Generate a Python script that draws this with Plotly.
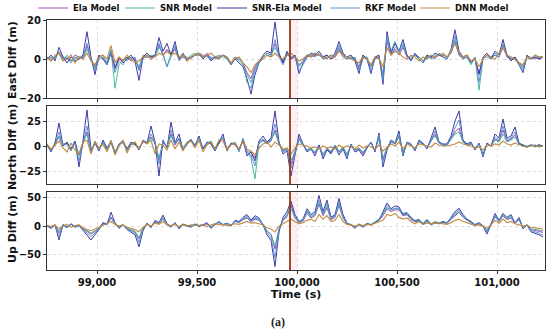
import plotly.graph_objects as go
from plotly.subplots import make_subplots

# time axis: 20 s steps
t_start = 98750
t_step = 20
n_pts = 125
time_s = [t_start + t_step * i for i in range(n_pts)]

models = ["Ela Model", "SNR Model", "SNR-Ela Model", "RKF Model", "DNN Model"]
colors = ["#a03cb8", "#3cb496", "#2c2c9e", "#5a8cd2", "#c0883c"]

# ---------------- East ----------------
east_dnn = [1, -1, 2, 3, -1, 0, 2, -2, 1, 0,
            3, -1, -3, 1, 2, 0, 7, -2, 1, -1,
            2, 0, -2, -1, 1, 2, 0, 1, 3, 2,
            4, 2, 3, 1, 2, -1, 1, 2, 3, 1,
            2, 3, 1, 0, 2, 1, -2, 0, 1, -2,
            -4, -7, -3, -1, 0, 2, 1, 3, 1, 0,
            2, 3, 1, -1, 0, 2, 1, 3, 2, 1,
            0, 2, 1, 4, 2, 1, 0, -1, -2, 1,
            0, -3, 1, 0, -4, 6, 2, 4, 3, 1,
            0, 2, 1, -1, 1, 0, 2, 1, 2, 3,
            1, 4, 8, 3, 1, 2, -1, 0, -4, 0,
            2, 1, 0, 3, 6, 2, 1, 0, -2, -3,
            1, 0, 2, 1, 1]
east_snrela = [0, 2, -1, 6, 1, -2, 1, -1, 0, 2,
               14, 1, -8, 2, 0, -3, 3, -5, 1, -2,
               0, 2, -1, -11, 1, 3, 1, 2, 11, 4,
               8, 2, 9, 0, 3, -1, 1, 2, 3, 0,
               2, -1, 1, 0, 2, 1, -3, 0, -2, -4,
               -10, -18, -8, -2, 2, 4, 3, 19, 3, -2,
               4, 0, 2, -7.5, -2, 1, 3, 2, 4, 1,
               2, 0, 3, 9, 3, 1, 2, -1, -7.5, 2,
               0, -7.5, 1, 2, -13, 14, 3, 8, 4, 10,
               2, -1, 3, 0, -2, 2, 1, 3, 2, 1,
               0, 5, 15, 4, 1, 2, -2, 0, -8, 1,
               3, 0, 4, 2, 10, 2, -1, 1, -3, -7,
               2, 0, 1, 0, 1]
east_snr = [1, 0, 1, 3, -1, 2, -1, 0, 1, 1,
            5, 0, -5, 1, 2, -2, 5, -15, -3, 0,
            -1, 1, 0, -4, 2, 1, 2, 1, 6, 3,
            -4, 3, 6, 1, 2, 0, 2, 3, 2, 1,
            2, 0, 1, 2, 1, 0, -2, 1, -1, -3,
            -8, -12, -5, -1, 1, 3, 2, 6, 2, -1,
            3, 1, 2, -4, -1, 2, 2, 3, 2, 0,
            1, 1, 2, 6, 2, 0, 1, 0, -5, 1,
            1, -4, 0, 1, -9, 10, 4, 9, 3, 7,
            2, 0, 2, 1, -1, 2, 0, 2, 2, 2,
            1, 3, 10, 3, 0, 1, -3, 1, -16, 0,
            2, 1, 3, 1, 7, 2, 0, 1, -2, -5,
            1, 0, 2, 1, 1]
east_rkf = [0, 1, 0, 4, 0, 1, -2, 1, 0, 1,
            8, 0, -6, 0, 1, -3, 4, -7, -1, -3,
            1, 0, 1, -6, 0, 2, 0, 2, 8, 2,
            -4, 1, 7, -1, 2, 1, 0, 2, 3, 2,
            1, 1, 0, 1, 2, 0, -3, 1, 0, -2,
            -12, -15, -6, -2, 0, 2, 1, 10, 1, -3,
            2, 1, 1, -6, -3, 1, 2, 1, 3, 0,
            1, 2, 1, 7, 2, 1, 0, 1, -6, 0,
            1, -6, 0, 1, -11, 12, 2, 6, 4, 8,
            1, 1, 2, 0, -2, 1, 1, 0, 3, 1,
            0, 4, 12, 2, 1, 1, -2, 1, -12, 1,
            1, 0, 2, 1, 8, 1, 1, 0, -3, -6,
            1, 1, 0, 1, 1]
east_ela = [1, -1, 1, 3, 1, 0, -1, 2, 1, 0,
            7, 0, -4, 2, 0, -2, 4, -4, 0, -1,
            1, -1, 0, -5, 1, 1, 1, 2, 7, 2,
            5, 2, 5, 0, 1, 0, 1, 2, 2, 1,
            3, 0, 1, 1, 2, 0, -2, 0, 0, -2,
            -7, -10, -4, -1, 1, 3, 2, 8, 2, -2,
            3, 0, 1, -3, -1, 2, 1, 2, 2, 1,
            2, 0, 1, 5, 1, 0, 1, 0, -4, 2,
            0, -4, 1, 1, -8, 9, 2, 5, 2, 6,
            1, 0, 2, 1, -1, 1, 1, 1, 2, 2,
            1, 3, 9, 2, 0, 1, -1, 0, -7, 0,
            2, 1, 2, 1, 6, 1, 0, 0, -2, -4,
            1, 0, 1, 0, 1]

# ---------------- North ----------------
north_dnn = [2, -3, 1, 5, -2, -6, 3, -4, -8, 4,
             6, -8, 4, -2, 2, -6, 5, -9, 0, 6,
             -7, 1, 4, -3, 5, 2, 6, -8, 2, 1,
             -4, 6, -3, 4, -5, 3, 5, -2, 6, -6,
             1, 4, -3, 6, 5, -4, 1, 3, -3, 5,
             -3, -5, -9, -2, 2, 4, -1, 4, 1, -3,
             -2, -8, -2, 2, 1, 0, -2, -1, -3, 0,
             -2, -1, -3, 1, -2, 0, -1, -3, 1, -2,
             0, -1, -3, 1, -5, -1, 2, 0, 4, -3,
             2, 0, -2, 2, 1, 0, -1, 3, 1, 0,
             0, 1, 2, 4, 2, 1, 0, -2, -1, -4,
             1, 0, 2, 1, 5, 2, 1, 3, 1, 0,
             -1, 0, 1, -1, 0]
north_snrela = [2, -6, 3, 23, 0, 4, -3, 5, -21, 5,
                36, -4, 3, -5, 6, -2, 4, -8, 2, 5,
                -3, 4, 2, -4, 6, 3, 20, 4, -30, 6,
                -2, 24, 3, 12, -4, 2, 6, 0, 10, -3,
                4, 2, -5, 3, 12, -5, 3, 2, -4, 6,
                -10, -6, -15, 5, 10, 4, 8, 35, 4, -8,
                -5, -30, -10, 12, 2, -6, -3, -10, 1, -13,
                -4, -8, 0, -9, -3, -13, 2, -6, -4, -10,
                -2, 4, -6, 13, -21, -4, 6, 3, 15, -10,
                4, 2, -5, 6, 3, -3, 8, 19, 4, 2,
                2, 10, 25, 35, 6, 2, 4, -4, 3, -11,
                3, 0, 12, 8, 27, 8, 10, 19, 3, 1,
                -1, 1, 0, 1, 0]
north_snr = [1, -4, 2, 10, 2, 3, -5, 4, -10, 4,
             12, -6, 5, -3, 3, -4, 6, -6, 1, 4,
             -5, 2, 3, -2, 5, 4, 8, 3, -12, 4,
             0, 10, 2, 6, -2, 4, 6, 1, 6, -2,
             3, 5, -3, 4, 8, -3, 2, 4, -6, 8,
             -5, -12, -33, 3, 5, 2, 6, 14, 2, -4,
             -3, -14, -6, 6, 1, -4, -2, -6, 0, -8,
             -3, -5, 1, -5, -2, -8, 1, -4, -3, -6,
             -1, 3, -4, 8, -12, -2, 5, 2, 9, -6,
             3, 1, -3, 4, 2, -2, 5, 10, 3, 1,
             1, 6, 12, 14, 4, 1, 3, -3, 2, -8,
             2, 0, 6, 4, 12, 4, 6, 9, 2, 1,
             0, 1, -1, 1, 0]
north_rkf = [0, -5, 1, 14, 1, 2, -4, 3, -15, 3,
             20, -5, 4, -4, 4, -3, 3, -7, 2, 3,
             -4, 3, 1, -3, 5, 3, 12, 4, -18, 5,
             -1, 16, 2, 8, -3, 3, 7, 0, 8, -2,
             3, 4, -4, 2, 9, -4, 2, 3, -5, 7,
             -8, -9, -20, 4, 7, 3, 7, 22, 3, -6,
             -4, -22, -8, 9, 1, -5, -3, -9, 0, -11,
             -3, -7, 0, -8, -2, -11, 2, -5, -3, -8,
             -1, 4, -5, 11, -17, -3, 6, 3, 12, -9,
             4, 1, -4, 5, 3, -3, 6, 15, 4, 1,
             1, 8, 18, 26, 5, 1, 3, -3, 2, -10,
             2, 0, 9, 6, 20, 6, 8, 14, 2, 0,
             -1, 1, 0, 0, 0]
north_ela = [1, -4, 2, 9, 0, 3, -4, 4, -9, 4,
             14, -5, 3, -3, 4, -3, 4, -6, 1, 4,
             -4, 2, 2, -3, 4, 3, 9, 3, -14, 3,
             0, 12, 1, 7, -3, 2, 6, 1, 6, -3,
             3, 3, -3, 3, 8, -3, 2, 2, -4, 5,
             -6, -6, -12, 3, 6, 2, 5, 16, 2, -5,
             -3, -18, -5, 7, 1, -4, -2, -7, 1, -9,
             -2, -6, 0, -6, -1, -9, 1, -4, -2, -7,
             -1, 3, -4, 9, -14, -2, 4, 2, 10, -7,
             3, 1, -3, 4, 2, -2, 5, 12, 3, 1,
             1, 7, 14, 18, 4, 1, 2, -2, 2, -8,
             2, 0, 7, 5, 16, 5, 7, 11, 2, 0,
             -1, 1, 0, 1, 0]

# ---------------- Up ----------------
up_dnn = [1, -1, 2, -5, 0, 3, -2, 1, 2, -3,
          -6, -8, -5, -2, 2, 4, 8, 3, 0, 2,
          -2, -4, -6, -10, -2, 3, 0, 5, 3, 8,
          2, 1, 3, -1, 2, 0, 2, 1, 1, 3,
          -1, 2, 4, 2, 3, 1, 2, 4, 3, 6,
          8, 5, 6, 4, 2, -3, -5, -10, 0, 4,
          8, 12, 8, 4, 6, 10, 12, 8, 20, 12,
          18, 8, 10, 20, 8, 3, 2, 0, 2, 1,
          3, 2, 5, 8, 10, 20, 18, 22, 15, 12,
          14, 8, 4, 8, 3, 5, 4, 6, 5, 3,
          3, 6, 10, 12, 8, 6, 4, 1, 2, 0,
          -4, 2, 10, 5, 12, 6, 8, 4, 2, 0,
          1, -2, -3, -4, -5]
up_snrela = [0, -4, 2, -24, 2, -3, 4, -2, 1, -8,
             -15, -24, -15, -6, 6, 3, 24, 6, -4, 2,
             -6, -10, -15, -36, -8, 5, -3, 10, 6, 19,
             4, -2, 6, -5, 3, 0, -2, 4, -1, 2,
             6, -4, 3, 8, 2, 5, 0, 10, 8, 15,
             20, 10, 18, 14, 2, -15, -25, -70, -10, 15,
             25, 43, 20, 8, 12, 30, 20, 25, 53, 25,
             45, 15, 20, 48, 20, 5, 2, -4, 3, -2,
             4, 2, 6, 10, 25, 40, 30, 35, 33, 20,
             22, 15, 8, 10, 3, 10, 2, 6, 4, 8,
             5, 15, 25, 31, 20, 12, 8, 2, 6, 0,
             -14, 3, 22, 10, 22, 15, 20, 5, 15, -5,
             2, -10, -12, -15, -19]
up_snr = [1, -2, 2, -10, 3, -1, 3, -1, 2, -4,
          -8, -12, -8, -3, 5, 4, 15, 5, -2, 3,
          -4, -6, -9, -20, -4, 4, -1, 8, 5, 12,
          3, 0, 5, -2, 4, 1, 0, 3, 1, 2,
          5, -2, 4, 6, 3, 5, 2, 9, 6, 12,
          15, 8, 14, 10, 3, -8, -15, -35, -5, 10,
          18, 30, 15, 6, 10, 25, 15, 20, 40, 20,
          35, 12, 18, 38, 15, 4, 3, -2, 4, 0,
          5, 3, 8, 12, 20, 32, 28, 30, 30, 22,
          24, 14, 10, 12, 5, 12, 4, 8, 6, 8,
          6, 12, 20, 25, 16, 10, 7, 3, 5, 1,
          -8, 4, 18, 8, 20, 12, 16, 6, 12, -2,
          3, -5, -6, -7, -8]
up_rkf = [0, -3, 2, -18, 1, -2, 4, -1, 0, -6,
          -12, -18, -12, -5, 4, 2, 16, 5, -3, 2,
          -5, -8, -12, -28, -6, 4, -2, 9, 5, 15,
          3, -1, 5, -4, 2, 1, -1, 3, 0, 2,
          5, -3, 3, 7, 2, 5, 1, 9, 7, 13,
          17, 9, 15, 12, 2, -12, -20, -55, -8, 12,
          20, 36, 17, 7, 11, 27, 17, 22, 45, 22,
          40, 13, 18, 42, 17, 4, 2, -3, 3, -1,
          4, 2, 7, 11, 22, 36, 28, 31, 31, 18,
          20, 13, 9, 11, 3, 9, 2, 6, 4, 7,
          5, 13, 22, 28, 18, 11, 7, 2, 5, 0,
          -11, 3, 20, 9, 21, 13, 18, 5, 13, -4,
          2, -8, -10, -12, -16]
up_ela = [1, -2, 2, -12, 2, -1, 3, -1, 1, -5,
          -9, -14, -9, -4, 4, 3, 14, 4, -2, 2,
          -4, -7, -10, -22, -5, 4, -1, 7, 4, 13,
          3, 0, 4, -3, 3, 1, 0, 3, 1, 1,
          4, -2, 3, 6, 2, 4, 1, 8, 6, 11,
          14, 7, 12, 10, 2, -9, -14, -40, -6, 10,
          16, 38, 14, 6, 9, 22, 14, 18, 38, 18,
          32, 11, 15, 36, 14, 4, 2, -2, 3, 0,
          4, 2, 6, 10, 18, 30, 25, 28, 28, 18,
          20, 11, 8, 9, 4, 9, 3, 6, 4, 6,
          5, 11, 18, 24, 15, 10, 6, 2, 4, 0,
          -9, 3, 16, 8, 18, 11, 14, 5, 11, -2,
          2, -6, -7, -9, -11]

event_time = 99965
x_ticks = [99000, 99500, 100000, 100500, 101000]

panels = [
    ("East Diff (m)", [east_ela, east_snr, east_snrela, east_rkf, east_dnn], [-20, 20], [-20, 0, 20]),
    ("North Diff (m)", [north_ela, north_snr, north_snrela, north_rkf, north_dnn], [-38, 40], [-25, 0, 25]),
    ("Up Diff (m)", [up_ela, up_snr, up_snrela, up_rkf, up_dnn], [-76, 59], [-50, 0, 50]),
]

# plot area in pixels (fixed margins)
L, R, T, B = 47, 5, 20, 64
W, H = 550, 334
pw, ph = W - L - R, H - T - B

fig = make_subplots(rows=3, cols=1, shared_xaxes=True, vertical_spacing=0.032)

legend_ids = ["legend", "legend2", "legend3", "legend4", "legend5"]
legend_text_x = [73, 160, 252, 365, 455]
line_widths = [1, 1, 1, 1, 1.2]

for r, (title, series, yr, yt) in enumerate(panels, start=1):
    for k, (name, col) in enumerate(zip(models, colors)):
        fig.add_trace(go.Scatter(
            x=time_s[:len(series[k])], y=series[k], mode="lines", name=name,
            line=dict(color=col, width=line_widths[k]), opacity=0.92,
            showlegend=(r == 1), legendgroup=name, legend=legend_ids[k]), row=r, col=1)
    fig.add_vrect(x0=event_time, x1=event_time + 40, fillcolor="rgba(255,190,215,0.25)",
                  line_width=0, layer="below", row=r, col=1)
    fig.add_vline(x=event_time, line=dict(color="#933616", width=1.8), row=r, col=1)
    fig.update_yaxes(range=yr, tickvals=yt, row=r, col=1)

fig.update_xaxes(range=[98750, 101240], tickvals=x_ticks, tickformat=",d",
                 showline=True, linecolor="#333", linewidth=1, mirror=True,
                 ticks="outside", ticklen=3, tickcolor="#333",
                 showgrid=True, gridcolor="#dcdcdc", griddash="dot", gridwidth=0.8,
                 zeroline=False, tickfont=dict(size=10, color="#111"), automargin=False)
fig.update_xaxes(title=dict(text="Time (s)", font=dict(size=11, color="#111"), standoff=1), row=3, col=1)
fig.update_yaxes(showline=True, linecolor="#333", linewidth=1, mirror=True,
                 ticks="outside", ticklen=3, tickcolor="#333",
                 showgrid=True, gridcolor="#dcdcdc", griddash="dot", gridwidth=0.8,
                 zeroline=False, tickfont=dict(size=10, color="#111"), automargin=False)

# y-axis titles as annotations
y_centers = [60, 147, 229]
for (title, _, _, _), yc in zip(panels, y_centers):
    fig.add_annotation(text=title, xref="paper", yref="paper",
                       x=(12 - L) / pw, y=1 - (yc - T) / ph,
                       xanchor="center", yanchor="middle",
                       textangle=-90, showarrow=False,
                       font=dict(size=11, color="#111", family="DejaVu Sans", weight="bold"))

fig.add_annotation(text="(a)", xref="paper", yref="paper",
                   x=(278 - L) / pw, y=1 - (322 - T) / ph, showarrow=False,
                   xanchor="center", yanchor="middle",
                   font=dict(size=12, color="#222", family="Liberation Serif", weight="bold"))

legend_common = dict(orientation="h", yanchor="middle", y=1 + (T - 8) / ph, xanchor="left",
                     font=dict(size=8.5, family="DejaVu Sans", weight="bold", color="#111"),
                     itemwidth=30, bgcolor="rgba(0,0,0,0)", borderwidth=0)
legend_layout = {}
for lid, tx in zip(legend_ids, legend_text_x):
    legend_layout[lid] = dict(legend_common, x=(tx - 40 - L) / pw)

fig.update_layout(
    width=W, height=H,
    margin=dict(l=L, r=R, t=T, b=B, autoexpand=False),
    paper_bgcolor="white", plot_bgcolor="white",
    font=dict(family="DejaVu Sans", weight="bold", color="#111"),
    showlegend=True,
    **legend_layout,
)

fig.write_html("out.html", config={"displayModeBar": False},
               post_script="document.body.style.margin='0';document.body.style.overflow='hidden';")
